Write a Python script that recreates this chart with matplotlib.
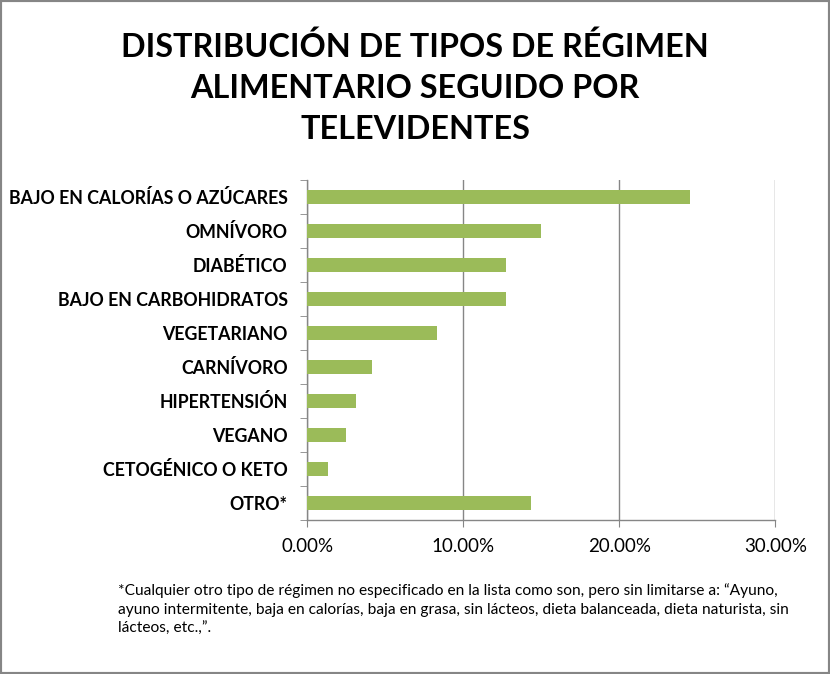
import matplotlib
matplotlib.use("Agg")
import numpy as np
from matplotlib import pyplot as plt
from matplotlib.patches import Rectangle

plt.rcParams['font.family'] = ['Lato', 'DejaVu Sans']

categorias = [
    "BAJO EN CALORÍAS O AZÚCARES",
    "OMNÍVORO",
    "DIABÉTICO",
    "BAJO EN CARBOHIDRATOS",
    "VEGETARIANO",
    "CARNÍVORO",
    "HIPERTENSIÓN",
    "VEGANO",
    "CETOGÉNICO O KETO",
    "OTRO*",
]
porcentajes = [24.55, 14.96, 12.74, 12.74, 8.31, 4.15, 3.12, 2.48, 1.33, 14.36]
ticks_x = [0, 10, 20, 30]

titulo = "DISTRIBUCIÓN DE TIPOS DE RÉGIMEN\nALIMENTARIO SEGUIDO POR\nTELEVIDENTES"
nota = ("*Cualquier otro tipo de régimen no especificado en la lista como son, pero sin limitarse a: “Ayuno,\n"
        "ayuno intermitente, baja en calorías, baja en grasa, sin lácteos, dieta balanceada, dieta naturista, sin\n"
        "lácteos, etc.,”.")

gris = "#868686"
verde = "#9BBB59"

fig = plt.figure(figsize=(8.3, 6.74), dpi=100)
ax = fig.add_axes([0.370, 0.2285, 0.564, 0.5045])

y = np.arange(len(categorias))
ax.barh(y, porcentajes, height=0.41, color=verde, zorder=3)
ax.set_ylim(len(categorias) - 0.5, -0.5)
ax.set_xlim(0, 30)

ax.set_yticks(y)
ax.set_yticklabels(categorias, fontsize=12.8, fontweight='bold')
ax.set_yticks(np.arange(-0.5, len(categorias), 1), minor=True)
ax.tick_params(axis='y', which='major', length=0, pad=14)
ax.tick_params(axis='y', which='minor', length=5, color=gris, direction='out')

ax.set_xticks(ticks_x)
ax.set_xticklabels([f"{v:.2f}%" for v in ticks_x], fontsize=13.5)
ax.tick_params(axis='x', length=5, color=gris, direction='out', pad=8)

ax.grid(axis='x', color=gris, linewidth=1, zorder=0)
for lado in ['top', 'right']:
    ax.spines[lado].set_visible(False)
for lado in ['left', 'bottom']:
    ax.spines[lado].set_color(gris)
    ax.spines[lado].set_linewidth(1)

fig.text(0.5, 0.8694, titulo, ha='center', va='center', fontsize=23.3,
         fontweight='bold', linespacing=1.5)
fig.text(0.142, 0.135, nota, ha='left', va='top', fontsize=11.2, linespacing=1.45)

fig.patches.append(Rectangle((0, 0), 1, 1, transform=fig.transFigure,
                             fill=False, edgecolor=gris, linewidth=3))

fig.savefig("out.png", dpi=100)
